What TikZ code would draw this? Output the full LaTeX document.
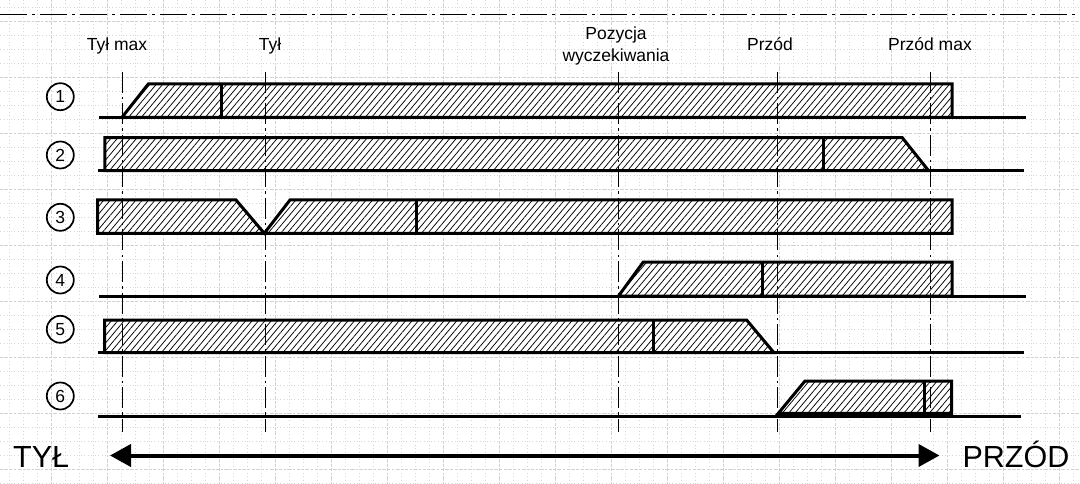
\documentclass[tikz,border=0pt]{standalone}
\usepackage{fontspec}
\setmainfont{Liberation Sans}
\usetikzlibrary{patterns.meta,arrows.meta}
\begin{document}
\begin{tikzpicture}[x=1pt,y=-1pt,
  minorgrid/.style={draw=black!16, line width=0.8pt, dash pattern=on 1pt off 2.5pt},
  majorgrid/.style={draw=black!18, line width=0.8pt, dash pattern=on 2.5pt off 2pt},
  hatchshape/.style={preaction={fill=white}, pattern={Lines[angle=50,distance=4.9pt,line width=0.75pt]}, draw, line width=3pt, line join=miter},
  baseln/.style={line width=3pt},
  divider/.style={line width=3pt},
  guide/.style={line width=1.2pt, dash pattern=on 21pt off 4pt on 2.5pt off 4pt},
  topline/.style={line width=1.3pt, dash pattern=on 27pt off 5pt on 3pt off 5pt},
  numcirc/.style={circle, draw, line width=1.7pt, minimum size=27pt, inner sep=0pt, font=\fontsize{17.5}{17.5}\selectfont},
  lbl/.style={anchor=base, font=\fontsize{17.5}{20}\selectfont},
  big/.style={anchor=base, font=\fontsize{30.5}{30.5}\selectfont},
  bigarrow/.style={line width=4pt, {Triangle[length=21pt,width=22pt]}-{Triangle[length=21pt,width=22pt]}}
]
\useasboundingbox (0,0) rectangle (1080,484);
\fill[white] (0,0) rectangle (1080,484);
% background grid
\foreach \k in {0,...,76} \draw[minorgrid] ({9.7+14*\k},0) -- ({9.7+14*\k},484);
\foreach \k in {0,...,34} \draw[minorgrid] (0,{7.7+14*\k}) -- (1080,{7.7+14*\k});
\foreach \k in {0,...,18} \draw[majorgrid] ({51.7+56*\k},0) -- ({51.7+56*\k},484);
\foreach \k in {0,...,8} \draw[majorgrid] (0,{21.7+56*\k}) -- (1080,{21.7+56*\k});
% top dash-dot line
\coordinate (tl) at (0,14.3);
\coordinate (tr) at (1080,14.3);
\draw[topline] (tl) -- (tr);

% row 1
\draw[hatchshape] (122,117.3) -- (148.3,84) -- (952,84) -- (952,117.3) -- cycle;
\draw[divider] (221.7,84) -- (221.7,117.3);
\draw[baseln] (99.3,117.3) -- (1025.5,117.3);
% row 2
\draw[hatchshape] (104.8,170.7) -- (104.8,137.7) -- (902.3,137.7) -- (928.6,170.7) -- cycle;
\draw[divider] (823.7,137.7) -- (823.7,170.7);
\draw[baseln] (98.1,170.7) -- (1023.8,170.7);
% row 3
\draw[hatchshape] (97.7,233.3) -- (97.7,200) -- (236,200) -- (264.3,233.3) -- (290,200) -- (952,200) -- (952,233.3) -- cycle;
\draw[divider] (416,200) -- (416,233.3);
% row 4
\draw[hatchshape] (618.5,296) -- (643.3,262) -- (952,262) -- (952,296) -- cycle;
\draw[divider] (762,262) -- (762,296);
\draw[baseln] (99.3,296) -- (1025.5,296);
% row 5
\draw[hatchshape] (104.5,352.7) -- (104.5,320) -- (746.6,320) -- (774,352.7) -- cycle;
\draw[divider] (653.6,320) -- (653.6,352.7);
\draw[baseln] (98.1,352.7) -- (1023.8,352.7);
% row 6
\draw[hatchshape] (778.3,413.3) -- (805,381) -- (951.7,381) -- (951.7,413.3) -- cycle;
\draw[divider] (924.3,381) -- (924.3,413.3);
\draw[baseln] (98.1,416) -- (1021.4,416);

% guide lines
\foreach \gx in {122.3,265.7,618.5,777.5,930.7}
  \draw[guide] (\gx,72) -- (\gx,432);

% labels
\node[lbl] (tylmax) at (117,50.7) {Tył max};
\node[lbl] (tyl) at (270,50.7) {Tył};
\node[lbl] (poz1) at (616,39.3) {Pozycja};
\node[lbl] (poz2) at (616,61.7) {wyczekiwania};
\node[lbl] (przod) at (770,51) {Przód};
\node[lbl] (przodmax) at (930,51) {Przód max};

% numbered circles
\node[numcirc] (n1) at (60.3,96.7) {1};
\node[numcirc] (n2) at (60.3,155) {2};
\node[numcirc] (n3) at (60.3,217.3) {3};
\node[numcirc] (n4) at (60.3,280) {4};
\node[numcirc] (n5) at (60.3,329.3) {5};
\node[numcirc] (n6) at (60.3,396) {6};

% direction arrow
\node[big] (back) at (41.2,467.3) {TYŁ};
\node[big] (front) at (1016,467.3) {PRZÓD};
\coordinate (aL) at (110,455.5);
\coordinate (aR) at (939.5,455.5);
\draw[bigarrow] (aL) -- (aR);
\end{tikzpicture}
\end{document}
